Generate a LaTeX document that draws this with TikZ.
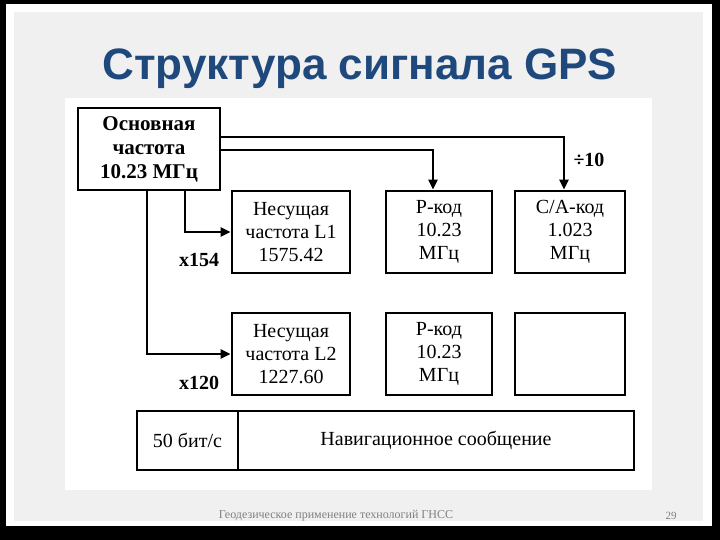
\documentclass[tikz,border=0pt]{standalone}
\usepackage{fontspec}
\setmainfont{Liberation Serif}
\newfontfamily\titlefont{Liberation Sans}
\usetikzlibrary{arrows.meta}
\definecolor{titleblue}{RGB}{31,73,125}
\definecolor{slidegray}{RGB}{240,240,240}
\definecolor{footgray}{RGB}{128,128,128}
\begin{document}
\begin{tikzpicture}[x=1pt,y=-1pt,
  box/.style={draw=black,line width=2.8pt,fill=white,inner sep=0pt,align=center,
    font=\fontsize{20}{23}\selectfont},
  conn/.style={line width=2.4pt,-{Triangle[length=10pt,width=9pt]}},
  lbl/.style={font=\bfseries\fontsize{20}{22}\selectfont,inner sep=0pt}]
\useasboundingbox (0,0) rectangle (720,540);
% slide frame
\fill[black] (0,0) rectangle (720,540);
\fill[white] (6,4) rectangle (712,526);
\fill[slidegray] (14,12) rectangle (703,521);
% title
\node[font=\titlefont\bfseries\fontsize{44}{48}\selectfont,text=titleblue] (title) at (360,69) {Структура сигнала GPS};
% white panel
\fill[white] (65,98) rectangle (652,490);
% boxes
\node[box,minimum width=142pt,minimum height=82pt,font=\bfseries\fontsize{21}{24}\selectfont] (main) at (149,149) {Основная\\частота\\10.23 МГц};
\node[box,minimum width=118pt,minimum height=82pt] (l1) at (291,232) {Несущая\\частота L1\\1575.42};
\node[box,minimum width=106pt,minimum height=82pt] (p1) at (439,232) {P-код\\10.23\\МГц};
\node[box,minimum width=110pt,minimum height=82pt] (ca) at (570,232) {C/A-код\\1.023\\МГц};
\node[box,minimum width=118pt,minimum height=82pt] (l2) at (291,354) {Несущая\\частота L2\\1227.60};
\node[box,minimum width=106pt,minimum height=82pt] (p2) at (439,354) {P-код\\10.23\\МГц};
\node[box,minimum width=110pt,minimum height=82pt] (e2) at (570,354) {};
\node[box,minimum width=101pt,minimum height=59pt] (rate) at (187.5,440.5) {50 бит/с};
\node[box,minimum width=396pt,minimum height=59pt] (nav) at (436,440.5) {Навигационное сообщение};
% connectors
\draw[conn] ([yshift=12pt]main.east) -| ([xshift=-6pt]ca.north);
\draw[conn] ([yshift=-1pt]main.east) -| ([xshift=-6pt]p1.north);
\draw[conn] ([xshift=36pt]main.south) |- (l1.west);
\draw[conn] ([xshift=-2pt]main.south) |- (l2.west);
% labels
\node[lbl] (x154) at (199,260) {x154};
\node[lbl] (x120) at (199,383) {x120};
\node[lbl] (div) at (589,160) {÷10};
% footer
\node[font=\fontsize{12}{14}\selectfont,text=footgray] (foot) at (336,516) {Геодезическое применение технологий ГНСС};
\node[font=\fontsize{11}{13}\selectfont,text=footgray] (page) at (671,516) {29};
\end{tikzpicture}
\end{document}
